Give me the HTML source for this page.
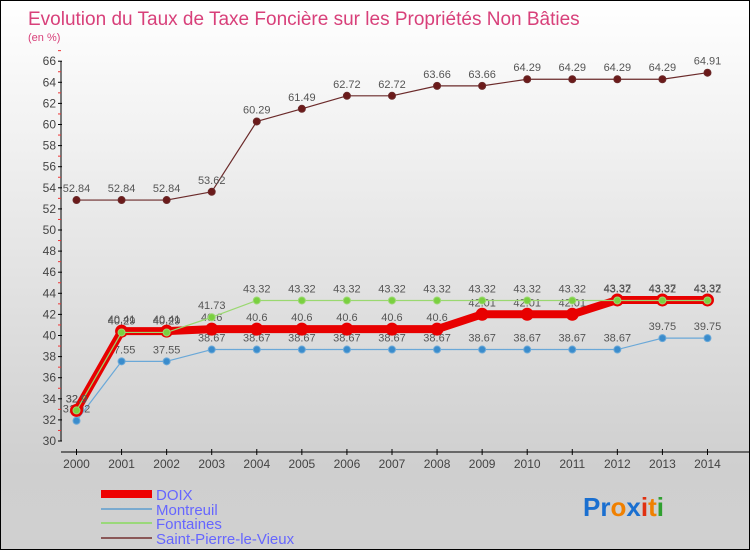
<!DOCTYPE html>
<html><head><meta charset="utf-8"><style>
body{margin:0}
#c{width:750px;height:550px;position:relative;background:linear-gradient(#ffffff,#cfcfcf 85%,#d0d0d0);font-family:"Liberation Sans",sans-serif;box-sizing:border-box;border:1px solid #000;overflow:hidden}
</style></head><body>
<div id="c">
<svg id="s" width="750" height="550" style="position:absolute;left:0;top:0">
<text x="27" y="24" font-size="19" fill="#d8407a">Evolution du Taux de Taxe Foncière sur les Propriétés Non Bâties</text>
<text x="27" y="40" font-size="11" fill="#d8407a">(en %)</text>
<g id="axes"></g><g id="series"></g>
<g>
<rect x="100" y="489" width="51" height="8" fill="#e00"/>
<text x="155" y="499" font-size="15" fill="#6666ff">DOIX</text>
<rect x="100" y="507" width="51" height="2" fill="#7aaacf"/>
<text x="155" y="514" font-size="15" fill="#6666ff">Montreuil</text>
<rect x="100" y="521" width="51" height="2" fill="#9ad87a"/>
<text x="155" y="528" font-size="15" fill="#6666ff">Fontaines</text>
<rect x="100" y="536" width="51" height="2" fill="#8a5858"/>
<text x="155" y="543" font-size="15" fill="#6666ff">Saint-Pierre-le-Vieux</text>
</g>
<g font-size="26" font-weight="bold">
<text x="582" y="515"><tspan fill="#1a6fd0">Pr</tspan><tspan fill="#f08000">o</tspan><tspan fill="#1a6fd0">x</tspan><tspan fill="#e03010">i</tspan><tspan fill="#f08000">t</tspan><tspan fill="#30a030">i</tspan></text>
</g>
</svg>
</div>
<script>
const years=[2000,2001,2002,2003,2004,2005,2006,2007,2008,2009,2010,2011,2012,2013,2014];
const yTicks=[30,32,34,36,38,40,42,44,46,48,50,52,54,56,58,60,62,64,66];
const doix=[32.9,40.41,40.41,40.6,40.6,40.6,40.6,40.6,40.6,42.01,42.01,42.01,43.37,43.37,43.37];
const montreuil=[31.92,37.55,37.55,38.67,38.67,38.67,38.67,38.67,38.67,38.67,38.67,38.67,38.67,39.75,39.75];
const fontaines=[32.9,40.29,40.29,41.73,43.32,43.32,43.32,43.32,43.32,43.32,43.32,43.32,43.32,43.32,43.32];
const spv=[52.84,52.84,52.84,53.62,60.29,61.49,62.72,62.72,63.66,63.66,64.29,64.29,64.29,64.29,64.91];
const NS="http://www.w3.org/2000/svg";
const X=i=>75.5+i*45.07;
const Y=v=>440-(v-30)*10.55;
function mk(t,a,p){const e=document.createElementNS(NS,t);for(const k in a)e.setAttribute(k,a[k]);p.appendChild(e);return e;}
const ax=document.getElementById('axes'),sg=document.getElementById('series');
let l=mk('line',{x1:60,y1:Y(66),x2:60,y2:440,stroke:'#000'},ax);


l=mk('line',{x1:60,y1:451,x2:748,y2:451,stroke:'#000'},ax);


yTicks.forEach(v=>{
 mk('line',{x1:57,y1:Y(v),x2:61,y2:Y(v),stroke:'#000'},ax);
 mk('line',{x1:57,y1:Y(v+1),x2:60,y2:Y(v+1),stroke:'#e33'},ax);
 const t=mk('text',{x:55,y:Y(v)+4,'font-size':12,fill:'#444','text-anchor':'end'},ax);t.textContent=v;
 
 
});
years.forEach((yr,i)=>{
 mk('line',{x1:X(i),y1:448,x2:X(i),y2:454,stroke:'#000'},ax);
 const t=mk('text',{x:X(i),y:467,'font-size':12,fill:'#444','text-anchor':'middle'},ax);t.textContent=yr;
 
 
});
function series(arr,color,w,r,dot,name,lblDy){
 const g=mk('g',{},sg);
 
 
 mk('polyline',{points:arr.map((v,i)=>X(i)+','+Y(v)).join(' '),fill:'none',stroke:color,'stroke-width':w,'stroke-linejoin':'round'},g);
 arr.forEach((v,i)=>{
  const c=mk('circle',{cx:X(i),cy:Y(v),r:r,fill:dot,stroke:color,'stroke-width':1},g);
  
  
  const t=mk('text',{x:X(i),y:Y(v)+lblDy,'font-size':11,fill:'#555','text-anchor':'middle'},g);t.textContent=String(v).replace('.','.');
  
  
 });
}
series(spv,'#6b2a2a',1.2,3.5,'#6b1a1a','series-saint-pierre-le-vieux',-8);
series(montreuil,'#6aa8d8',1.2,3.5,'#3a8ccc','series-montreuil',-8);
series(doix,'#e80000',8,6,'#e80000','series-doix',-8);
series(fontaines,'#9ad870',1.2,3.5,'#7ad040','series-fontaines',-8);
</script>
</body></html>
